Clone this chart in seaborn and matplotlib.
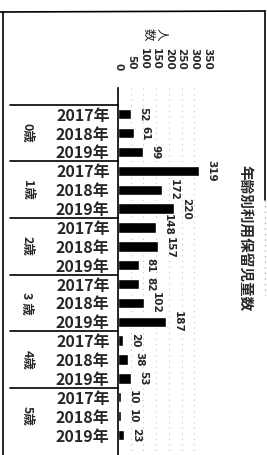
import matplotlib
matplotlib.use('Agg')
import numpy as np
import pandas as pd
import matplotlib.pyplot as plt
import seaborn as sns
from matplotlib.transforms import blended_transform_factory

# data
ages = ['0歳', '1歳', '2歳', '3 歳', '4歳', '5歳']
years = ['2017年', '2018年', '2019年']
v2017 = [52, 319, 148, 82, 20, 10]
v2018 = [61, 172, 157, 102, 38, 10]
v2019 = [99, 220, 81, 187, 53, 23]
ticks = [0, 50, 100, 150, 200, 250, 300, 350]
title = '年齢別利用保留児童数'
unit = '人\n数'

sns.set_theme(style='white')
plt.rcParams['font.family'] = ['Noto Sans CJK JP', 'DejaVu Sans']

rows = []
for i, age in enumerate(ages):
    for y, vals in zip(years, [v2017, v2018, v2019]):
        rows.append({'row': age + ' ' + y, 'year': y, 'value': vals[i]})
df = pd.DataFrame(rows)

W, H = 267, 455
fig = plt.figure(figsize=(W / 100, H / 100), dpi=100)
fig.patch.set_facecolor('white')

# bar area (pixel box 118..207 x 88..457)
ax = fig.add_axes([118 / W, 1 - 457 / H, 89 / W, 369 / H])
sns.barplot(data=df, y='row', x='value', orient='h', color='black',
            width=0.55, saturation=1, ax=ax)
ax.set_xlim(0, 350)
ax.set_xticks(ticks)
ax.xaxis.tick_top()
ax.tick_params(axis='x', length=0, pad=13, labelsize=7.5, labelrotation=-90)
for lbl in ax.get_xticklabels():
    lbl.set_fontfamily('DejaVu Sans')
    lbl.set_fontweight('bold')
ax.set_yticks(range(len(df)))
ax.set_yticklabels(years * len(ages), fontweight='bold')
ax.tick_params(axis='y', length=0, pad=6, labelsize=11.5)
ax.set_xlabel('')
ax.set_ylabel('')
for s in ['top', 'right', 'bottom']:
    ax.spines[s].set_visible(False)
ax.spines['left'].set_color('black')
ax.spines['left'].set_linewidth(1.2)
ax.grid(axis='x', color='#c4c4c4', linestyle=(0, (1, 4)), linewidth=0.8)
ax.set_axisbelow(True)

labels = []
for c in ax.containers:
    labels += ax.bar_label(c, padding=5, rotation=-90, fontsize=7.5,
                           fontweight='bold', family='DejaVu Sans')
# 148 / 157 sit a little apart in the reference
labels[6].xyann = (5, 1.5)
labels[7].xyann = (5, -1.5)

# table lines and age labels on the left
tr = blended_transform_factory(ax.transAxes, ax.transData)
x0 = (10 - 118) / 89
for k in range(len(ages)):
    yb = 3 * k - 0.5
    ax.plot([x0, 0], [yb, yb], transform=tr, color='black', lw=1.2, clip_on=False)
    ax.text((27 - 118) / 89, 3 * k + 1, ages[k], transform=tr, rotation=-90,
            ha='center', va='center', fontsize=9, fontweight='bold')

# frame of the scan
def line(xs, ys, **kw):
    fig.add_artist(plt.Line2D([x / W for x in xs], [1 - y / H for y in ys],
                              transform=fig.transFigure, **kw))

line([2.5, 2.5], [12, 455], color='black', lw=1.2)
line([0, 265], [12, 11], color='black', lw=1.2)
line([265, 265], [11, 200], color='black', lw=1.2)
line([265, 265], [200, 295], color='#aaaaaa', lw=1.0, linestyle=(0, (1, 3)))

fig.text(245 / W, 1 - 238 / H, title, rotation=-90, ha='center', va='center',
         fontsize=10.5, fontweight='bold')
fig.text(155 / W, 1 - 34 / H, unit, rotation=-90, ha='center', va='center',
         fontsize=9, linespacing=1.0)

fig.savefig('out.png', dpi=100)
